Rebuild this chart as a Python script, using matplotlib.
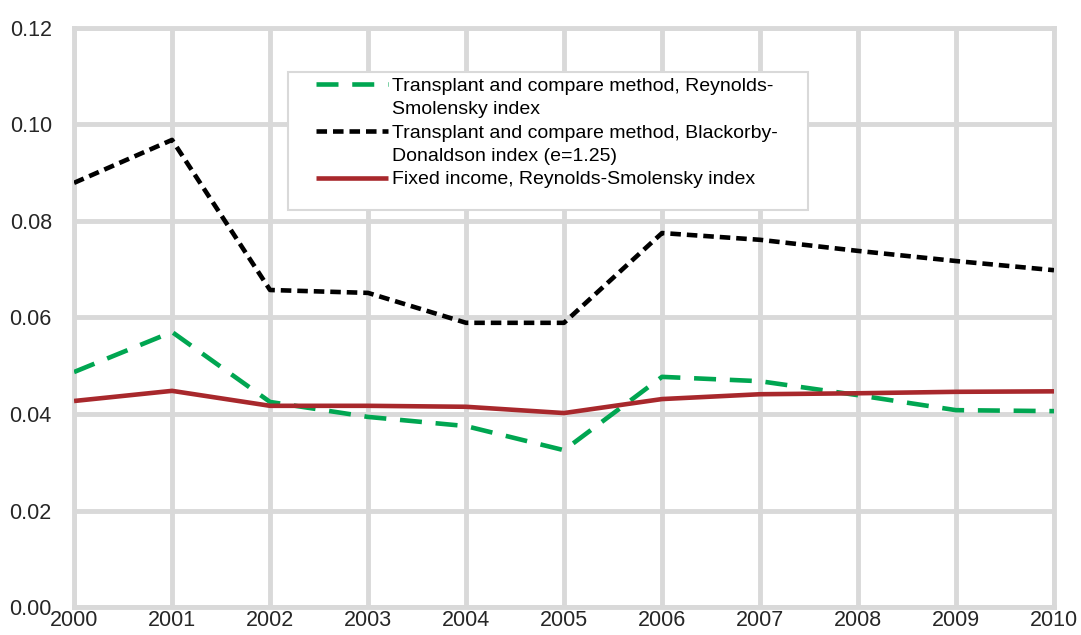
import matplotlib.pyplot as plt
from matplotlib.lines import Line2D
from matplotlib.patches import Rectangle

years = [2000, 2001, 2002, 2003, 2004, 2005, 2006, 2007, 2008, 2009, 2010]
tc_reynolds = [0.0487, 0.0570, 0.0425, 0.0394, 0.0375, 0.0325, 0.0477, 0.0468, 0.0439, 0.0408, 0.0406]
tc_blackorby = [0.0879, 0.0968, 0.0657, 0.0651, 0.0589, 0.0589, 0.0775, 0.0761, 0.0738, 0.0717, 0.0698]
fixed_reynolds = [0.0427, 0.0448, 0.0417, 0.0417, 0.0415, 0.0402, 0.0431, 0.0441, 0.0443, 0.0446, 0.0447]
yticks = [0.00, 0.02, 0.04, 0.06, 0.08, 0.10, 0.12]

label_green = ["Transplant and compare method, Reynolds-", "Smolensky index"]
label_black = ["Transplant and compare method, Blackorby-", "Donaldson index (e=1.25)"]
label_red = "Fixed income, Reynolds-Smolensky index"

plt.rcParams["font.family"] = ["Liberation Sans", "DejaVu Sans"]

grid_color = "#d9d9d9"
green = "#00a651"
red = "#a8282c"

fig = plt.figure(figsize=(10.81, 6.35), dpi=100)
ax = fig.add_axes([0.0685, 0.044, 0.9065, 0.912])

ln_green, = ax.plot(years, tc_reynolds, color=green, lw=3.3, dashes=(4.8, 3), zorder=3)
ln_black, = ax.plot(years, tc_blackorby, color="black", lw=3.3, dashes=(2.3, 1.3), zorder=3)
ln_red, = ax.plot(years, fixed_reynolds, color=red, lw=3.3, zorder=3, solid_capstyle="butt")

ax.set_xlim(2000, 2010)
ax.set_ylim(0, 0.12)
ax.set_xticks(years)
ax.set_yticks(yticks)
ax.set_yticklabels([f"{v:.2f}" for v in yticks])
ax.grid(True, color=grid_color, lw=3.5, zorder=0)
for s in ax.spines.values():
    s.set_color(grid_color)
    s.set_linewidth(3.5)
ax.tick_params(axis="both", length=0, labelsize=15.5, labelcolor="#262626")
ax.tick_params(axis="y", pad=16)
ax.tick_params(axis="x", pad=2)

# legend box drawn separately so it keeps the blank space below the entries
ax.add_patch(Rectangle((0.218, 0.686), 0.531, 0.238, transform=ax.transAxes,
                       facecolor="white", edgecolor=grid_color, lw=1.5, zorder=4))
blank = Line2D([], [], color="none")
handles = [ln_green, blank, ln_black, blank, ln_red]
labels = [label_green[0], label_green[1], label_black[0], label_black[1], label_red]
leg = ax.legend(handles, labels, loc="upper left", bbox_to_anchor=(0.243, 0.922),
                frameon=False, fontsize=14, handlelength=3.7, handletextpad=0.2,
                labelspacing=0.3, borderpad=0.2, borderaxespad=0)
leg.set_zorder(5)

fig.savefig("out.png", dpi=100)
